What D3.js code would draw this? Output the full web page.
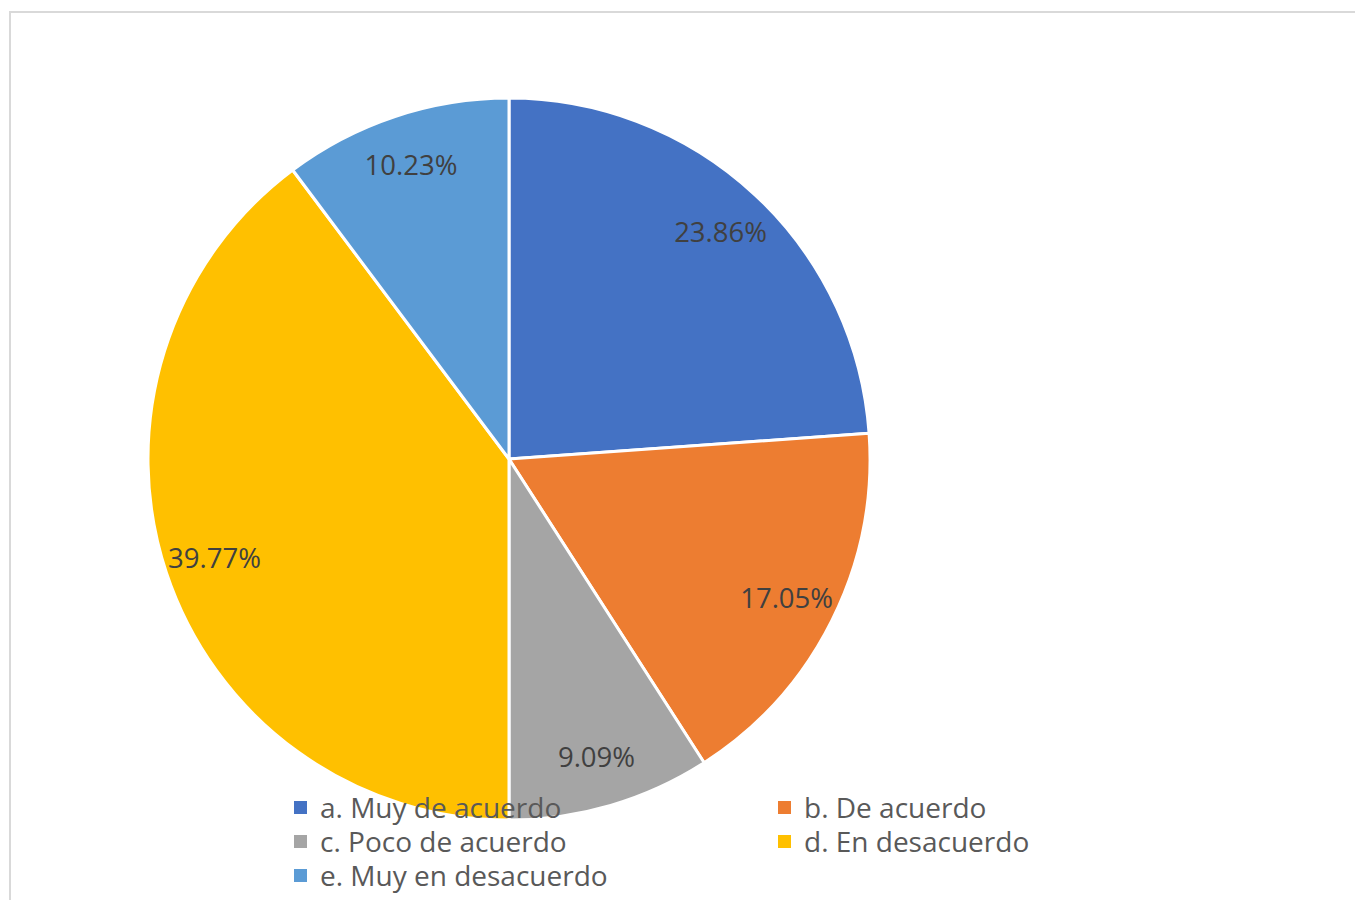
<!DOCTYPE html>
<html>
<head>
<meta charset="utf-8">
<script src="https://cdn.jsdelivr.net/npm/d3@7"></script>
<style>
  html, body { margin: 0; padding: 0; background: #fff; }
  svg { display: block; }
</style>
</head>
<body>
<svg id="chart" width="1355" height="900"></svg>
<script>
const categories = ["a. Muy de acuerdo", "b. De acuerdo", "c. Poco de acuerdo", "d. En desacuerdo", "e. Muy en desacuerdo"];
const counts = [21, 15, 8, 35, 9];
const percentLabels = ["23.86%", "17.05%", "9.09%", "39.77%", "10.23%"];
const colors = ["#4472C4", "#ED7D31", "#A5A5A5", "#FFC000", "#5B9BD5"];

const svg = d3.select("#chart");
const W = 1355, H = 900;
const font = "'Open Sans', 'Noto Sans', sans-serif";

// chart border
svg.append("rect")
  .attr("x", 10).attr("y", 12)
  .attr("width", W + 20).attr("height", H + 20)
  .attr("fill", "#fff")
  .attr("stroke", "#d9d9d9").attr("stroke-width", 2);

const cx = 509, cy = 459, R = 361;
const data = categories.map((c, i) => ({ cat: c, value: counts[i], label: percentLabels[i], color: colors[i] }));

const pie = d3.pie().value(d => d.value).sort(null);
const arcs = pie(data);
const arc = d3.arc().innerRadius(0).outerRadius(R);
const labelArc = d3.arc().innerRadius(R * 0.86).outerRadius(R * 0.86);

const g = svg.append("g").attr("transform", `translate(${cx},${cy})`);
g.selectAll("path.slice").data(arcs).enter().append("path")
  .attr("class", "slice")
  .attr("d", arc)
  .attr("fill", d => d.data.color)
  .attr("stroke", "#fff")
  .attr("stroke-width", 3)
  .attr("stroke-linejoin", "round");

g.selectAll("text.lbl").data(arcs).enter().append("text")
  .attr("class", "lbl")
  .attr("transform", d => `translate(${labelArc.centroid(d)})`)
  .attr("text-anchor", "middle")
  .attr("dominant-baseline", "central")
  .attr("font-family", font)
  .attr("font-size", 27.5)
  .attr("fill", "#404040")
  .text(d => d.data.label);

// legend
const legendCols = [294, 778];
const legendRows = [807, 841, 875];
const lg = svg.append("g");
data.forEach((d, i) => {
  const x = legendCols[i % 2];
  const y = legendRows[Math.floor(i / 2)];
  lg.append("rect")
    .attr("x", x).attr("y", y - 6)
    .attr("width", 13).attr("height", 13)
    .attr("fill", d.color);
  lg.append("text")
    .attr("x", x + 26).attr("y", y)
    .attr("dominant-baseline", "central")
    .attr("font-family", font)
    .attr("font-size", 28)
    .attr("fill", "#595959")
    .text(d.cat);
});
</script>
</body>
</html>
